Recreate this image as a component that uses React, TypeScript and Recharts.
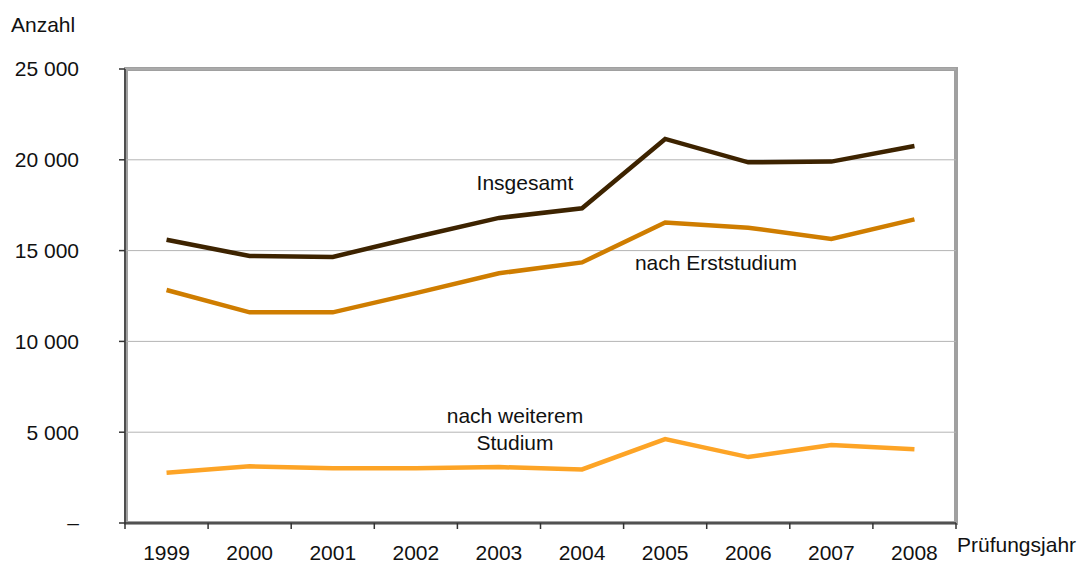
import React from "react";
import { CartesianGrid, Line, LineChart, XAxis, YAxis } from "recharts";

const years = ["1999", "2000", "2001", "2002", "2003", "2004", "2005", "2006", "2007", "2008"];
const insgesamt = [15600, 14700, 14650, 15750, 16800, 17330, 21150, 19860, 19900, 20760];
const erststudium = [12830, 11600, 11600, 12660, 13750, 14350, 16550, 16260, 15640, 16720];
const weiteres = [2770, 3120, 3010, 3020, 3080, 2950, 4620, 3630, 4290, 4060];
const yTicks = [0, 5000, 10000, 15000, 20000, 25000];

const data = years.map((year, i) => ({
  year,
  insgesamt: insgesamt[i],
  erststudium: erststudium[i],
  weiteres: weiteres[i],
}));

const W = 1082;
const H = 563;
const PLOT_LEFT = 125;
const PLOT_RIGHT = 956;
const PLOT_TOP = 69;
const PLOT_BOTTOM = 523;
const BAND = (PLOT_RIGHT - PLOT_LEFT) / years.length;
const FONT = '"Liberation Sans", Arial, sans-serif';
const FS = 21;

const formatY = (v: number) =>
  v === 0 ? "–" : v.toString().replace(/\B(?=(\d{3})+(?!\d))/g, " ");

interface XTickProps {
  x?: number;
  index?: number;
  payload?: { value: string };
}

function YearTick({ x = 0, index = 0, payload }: XTickProps) {
  const last = index === years.length - 1;
  const y = PLOT_BOTTOM;
  return (
    <g>
      <line x1={x - BAND / 2} x2={x - BAND / 2} y1={y} y2={y + 6} stroke="#333" strokeWidth={1.5} />
      {last && (
        <line x1={x + BAND / 2} x2={x + BAND / 2} y1={y} y2={y + 6} stroke="#333" strokeWidth={1.5} />
      )}
      <text x={x} y={560} textAnchor="middle" fill="#111" fontSize={FS} fontFamily={FONT}>
        {payload?.value}
      </text>
    </g>
  );
}

export default function App() {
  return (
    <div style={{ position: "absolute", left: 0, top: 0, width: W, height: H, background: "#fff" }}>
      {/* grey frame around the plot area */}
      <div
        style={{
          position: "absolute",
          left: 124,
          top: 67,
          width: 958 - 124,
          height: 525 - 67,
          border: "4px solid #a0a0a0",
          boxSizing: "border-box",
        }}
      />
      <div style={{ position: "absolute", left: 0, top: 0 }}>
        <LineChart
          width={W}
          height={H}
          data={data}
          margin={{ top: PLOT_TOP, right: W - PLOT_RIGHT, bottom: 0, left: 0 }}
        >
          <CartesianGrid vertical={false} stroke="#b4b4b4" strokeWidth={1} />
          <XAxis
            dataKey="year"
            height={H - PLOT_BOTTOM}
            padding={{ left: BAND / 2, right: BAND / 2 }}
            axisLine={{ stroke: "#333", strokeWidth: 1.5 }}
            tickLine={false}
            tick={<YearTick />}
            interval={0}
          />
          <YAxis
            width={PLOT_LEFT}
            domain={[0, 25000]}
            ticks={yTicks}
            tickFormatter={formatY}
            axisLine={{ stroke: "#333", strokeWidth: 1.5 }}
            tickLine={{ stroke: "#333", strokeWidth: 1.5 }}
            tickSize={6}
            tickMargin={40}
            tick={{ fill: "#111", fontSize: FS, fontFamily: FONT }}
          />
          <Line
            dataKey="weiteres"
            stroke="#fda426"
            strokeWidth={4.5}
            dot={false}
            isAnimationActive={false}
          />
          <Line
            dataKey="erststudium"
            stroke="#cf7d00"
            strokeWidth={4.5}
            dot={false}
            isAnimationActive={false}
          />
          <Line
            dataKey="insgesamt"
            stroke="#3d2300"
            strokeWidth={4.5}
            dot={false}
            isAnimationActive={false}
          />
        </LineChart>
      </div>
      <svg
        width={W}
        height={H}
        style={{ position: "absolute", left: 0, top: 0, pointerEvents: "none" }}
        fontFamily={FONT}
        fontSize={FS}
        fill="#111"
      >
        <text x={11} y={32}>Anzahl</text>
        <text x={957} y={552}>Prüfungsjahr</text>
        <text x={525} y={190} textAnchor="middle">Insgesamt</text>
        <text x={716} y={270} textAnchor="middle">nach Erststudium</text>
        <text x={515} y={423} textAnchor="middle">nach weiterem</text>
        <text x={515} y={450} textAnchor="middle">Studium</text>
      </svg>
    </div>
  );
}
